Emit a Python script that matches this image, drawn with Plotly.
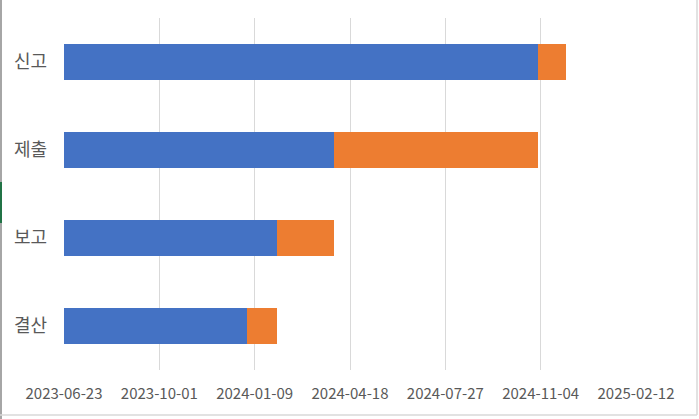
import pandas as pd
import plotly.graph_objects as go

# Data
tasks = ["결산", "보고", "제출", "신고"]
start_dates = ["2024-01-01", "2024-02-01", "2024-04-01", "2024-11-01"]
durations = [31, 60, 214, 30]

axis_min_date = "2023-06-23"
axis_max_date = "2025-02-12"
major_unit_days = 100

EPOCH = pd.Timestamp("1899-12-30")


def serial(d):
    return (pd.Timestamp(d) - EPOCH).days


start_serials = [serial(d) for d in start_dates]
xmin, xmax = serial(axis_min_date), serial(axis_max_date)
tickvals = list(range(xmin, xmax + 1, major_unit_days))
ticktext = [(EPOCH + pd.Timedelta(days=v)).strftime("%Y-%m-%d") for v in tickvals]

FONT = "Noto Sans CJK KR, Noto Sans, sans-serif"
GRAY = "#595959"

L, R, T, B = 64, 63, 18, 49
PW, PH = 699 - L - R, 419 - T - B

fig = go.Figure()
fig.add_trace(go.Bar(y=tasks, x=start_serials, orientation="h",
                     marker=dict(color="#4472C4", line=dict(width=0)),
                     name="시작일", hoverinfo="skip"))
fig.add_trace(go.Bar(y=tasks, x=durations, orientation="h",
                     marker=dict(color="#ED7D31", line=dict(width=0)),
                     name="기간", hoverinfo="skip"))

fig.update_layout(
    barmode="stack",
    bargap=0.6,
    width=699, height=419,
    margin=dict(l=L, r=R, t=T, b=B, autoexpand=False),
    paper_bgcolor="white", plot_bgcolor="white",
    showlegend=False,
    font=dict(family=FONT, color=GRAY),
    xaxis=dict(range=[xmin, xmax], tickmode="array", tickvals=tickvals,
               ticktext=ticktext, showgrid=True, gridcolor="#d9d9d9",
               gridwidth=1, zeroline=False, showline=False, automargin=False,
               tickfont=dict(size=15, color=GRAY, family=FONT),
               ticks="", ticklabelstandoff=13),
    yaxis=dict(categoryorder="array", categoryarray=tasks, automargin=False,
               showgrid=False, zeroline=False, showline=False,
               tickfont=dict(size=18, color=GRAY, family=FONT),
               ticks="", ticklabelstandoff=16),
    shapes=[
        dict(type="line", xref="paper", yref="paper", x0=-(L - 1) / PW, x1=-(L - 1) / PW,
             y0=-B / PH, y1=1 + T / PH, line=dict(color="#a6a6a6", width=2)),
        dict(type="rect", xref="paper", yref="paper", x0=-L / PW, x1=-(L - 2) / PW,
             y0=(PH + T - 223) / PH, y1=(PH + T - 182) / PH,
             fillcolor="#217346", line=dict(width=0)),
        dict(type="line", xref="paper", yref="paper", x0=1 + (R - 2) / PW, x1=1 + (R - 2) / PW,
             y0=-(B - 4) / PH, y1=1 + T / PH, line=dict(color="#d9d9d9", width=1.5)),
        dict(type="line", xref="paper", yref="paper", x0=-L / PW, x1=1 + (R - 2) / PW,
             y0=-(B - 4) / PH, y1=-(B - 4) / PH, line=dict(color="#d9d9d9", width=1.5)),
    ],
)

fig.write_html("out.html", config={"displayModeBar": False, "staticPlot": True},
               post_script="document.body.style.margin='0';document.body.style.padding='0';")
